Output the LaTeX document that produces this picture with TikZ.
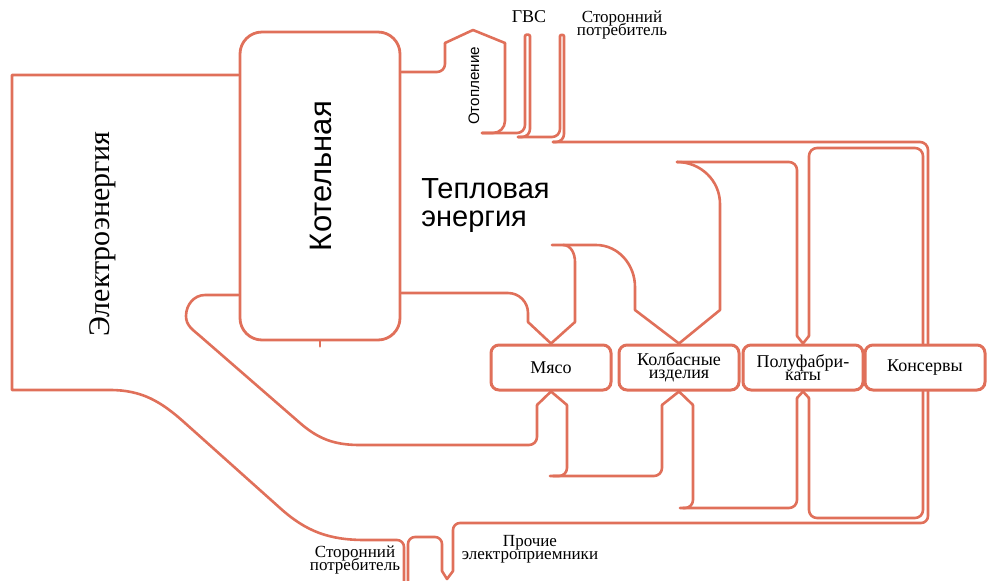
\documentclass[tikz,border=0pt]{standalone}
\usepackage{fontspec}
\setmainfont{Liberation Serif}
\newfontfamily\sansfont{Liberation Sans}
\usetikzlibrary{calc}
\definecolor{linea}{RGB}{224,112,90}
\newcommand\etiq[2]{\fontsize{#1}{#2}\selectfont\lineskiplimit=-20pt\relax}
\def\boxwidth{60pt}
\tikzset{
	every node/.style={
		font=\rmfamily\etiq{9}{6.5}
	},
	product/.style={
		shape=rectangle,
		draw=linea,
		fill=white,
		line width=1.5pt,
		rounded corners=4pt,
		minimum width=\boxwidth,
		minimum height=22.5pt,
		inner sep=1pt,
		align=center
	},
	boiler/.style={
		shape=rectangle,
		draw=linea,
		line width=1.4pt,
		rounded corners=11pt,
		minimum width=80pt,
		minimum height=154pt
	},
	flow/.style={
		draw=linea,
		line width=1.3pt,
		line cap=round,
		line join=round
	},
	caption/.style={
		inner sep=0pt,
		align=center,
		font=\rmfamily\etiq{8.5}{6.3}
	}
}

\begin{document}
\begin{tikzpicture}[x=0.5pt,y=-0.5pt]
	\useasboundingbox (0,0) rectangle (993,580);
	
	\node[boiler] (kot) at (320,186) {};
	\foreach \name/\x/\txt in {meat/551/Мясо, sausage/679/{Колбасные\\изделия}, semi/803/{Полуфабри-\\каты}, canned/925/Консервы}
	\node[product] (\name) at (\x,367.5) {\txt};
	
	% electricity
	\draw[flow] (kot.west |- 0,75) -- (12,75) -- (12,390) -- (110,390) to[out=0,in=138] (185,423) -- (280,508) to[out=-42,in=180] (365,540) -- (397,540) to[out=0,in=90] (404,547) -- (404,585);
	\draw[flow] (408,585) -- (408,544) to[out=90,in=180] (415,537) -- (435,537) to[out=0,in=90] (442,544) -- (442,571) -- (447,579) -- (453,571) -- (453,530) to[out=90,in=180] (460,523) -- (921,523) to[out=0,in=-90] (928,516) -- (928,0 |- canned.south);
	\draw[flow, rounded corners=4pt] (923,0 |- canned.south) -- (923,518) -- (809,518) -- (809,398);
	\draw[flow] (809,398) -- (semi.south) -- (797,398);
	\draw[flow, rounded corners=4pt] (797,398) -- (797,508) -- (680,508);
	\draw[flow, rounded corners=4pt] (693,405) -- (693,508) -- (683,508);
	\draw[flow] (693,405) -- (sausage.south) -- (662,405);
	\draw[flow, rounded corners=4pt] (662,405) -- (662,476) -- (550,476);
	\draw[flow, rounded corners=4pt] (567,405) -- (567,476) -- (553,476);
	\draw[flow] (567,405) -- (meat.south) -- (537,405);
	\draw[flow] (537,405) -- (537,437) to[out=-90,in=0] (529,445) -- (360,445) to[out=180,in=-41] (300,423) -- (200,336) to[out=139,in=-90] (186,316) to[out=90,in=180] (205,295) -- (kot.west |- 0,295);
	\draw[flow] (kot.south) -- ++(0,5);
	
	% heat
	\draw[flow, rounded corners=4pt] (kot.east |- 0,72) -- (445,72) -- (445,43);
	\draw[flow] (445,43) -- (473,30) -- (505,43);
	\draw[flow, rounded corners=6pt] (505,43) -- (505,133) -- (482,133);
	\draw[flow, rounded corners=4pt] (482,133) -- (525,133) -- (525,36);
	\draw[flow] (525,36) to[out=90,in=90] (530,36);
	\draw[flow, rounded corners=4pt] (530,36) -- (530,137) -- (518,137);
	\draw[flow, rounded corners=4pt] (518,137) -- (560,137) -- (560,36);
	\draw[flow] (560,36) to[out=90,in=90] (564,36);
	\draw[flow, rounded corners=4pt] (564,36) -- (564,142) -- (553,142);
	\draw[flow, rounded corners=4pt] (553,142) -- (928,142) -- (928,0 |- canned.north);
	\draw[flow, rounded corners=4pt] (923,0 |- canned.north) -- (923,148) -- (809,148) -- (809,336);
	\draw[flow] (809,336) -- (semi.north) -- (797,336);
	\draw[flow, rounded corners=4pt] (797,336) -- (797,162) -- (677,162);
	\draw[flow] (677,162) to[out=0,in=90] (720,204) -- (720,310) -- (sausage.north);
	\draw[flow] (sausage.north) -- (635,310) -- (635,287) to[out=90,in=0] (596,245) -- (552,245);
	\draw[flow] (563,245) to[out=0,in=90] (575,262) -- (575,322) -- (meat.north);
	\draw[flow] (kot.east |- 0,293) -- (508,293) to[out=0,in=90] (528,313) -- (528,322) -- (meat.north);
	
	\node[rotate=90, font=\rmfamily\etiq{15}{18}] (elec) at (103,234) {Электроэнергия};
	\node[rotate=90, font=\sansfont\etiq{15.5}{18}] (kotname) at (321,176) {Котельная};
	\node[anchor=north west, inner sep=0pt, align=left, font=\sansfont\etiq{14.5}{14}] (heat) at (421,178) {Тепловая\\энергия};
	\node[rotate=90, inner sep=0pt, font=\sansfont\etiq{7.6}{9}] (otop) at (474,86) {Отопление};
	\node[caption, font=\rmfamily\etiq{9}{10}] (gvs) at (529,17) {ГВС};
	\node[caption] (ext1) at (622,25) {Сторонний\\потребитель};
	\node[caption] (ext2) at (355,560) {Сторонний\\потребитель};
	\node[caption] (other) at (530,549) {Прочие\\электроприемники};
\end{tikzpicture}
\end{document}
